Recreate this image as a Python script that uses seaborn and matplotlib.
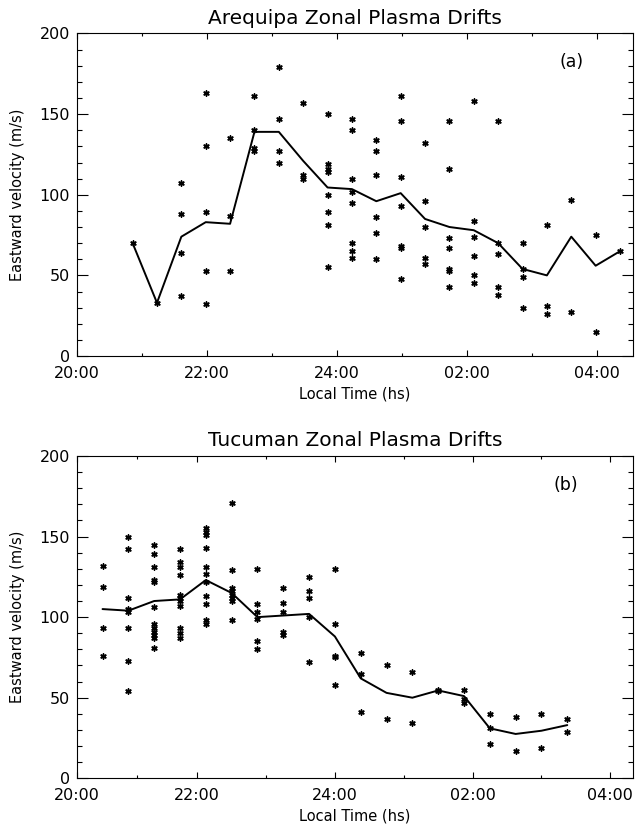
import numpy as np
import pandas as pd
import matplotlib
matplotlib.use("Agg")
import matplotlib.pyplot as plt
import seaborn as sns

# ---------------- data (decimal local hours, 24+ = after midnight) ----------------
top_times = [20.86, 21.235, 21.61, 21.985, 22.36, 22.735, 23.11, 23.485, 23.86, 24.235,
             24.61, 24.985, 25.36, 25.735, 26.11, 26.485, 26.86, 27.235, 27.61, 27.985, 28.36]
top_points = [
    [70],
    [33],
    [107, 88, 64, 37],
    [163, 130, 89, 53, 32],
    [135, 87, 53],
    [161, 140, 129, 127],
    [179, 147, 127, 120],
    [157, 112, 110],
    [150, 119, 116, 114, 100, 89, 81, 55],
    [147, 140, 110, 102, 95, 70, 65, 61],
    [134, 127, 112, 86, 76, 60],
    [161, 146, 111, 93, 68, 67, 48],
    [132, 96, 80, 61, 57],
    [146, 116, 73, 67, 54, 53, 43],
    [158, 84, 74, 62, 50, 45],
    [146, 70, 63, 43, 38],
    [70, 54, 49, 30],
    [81, 31, 26],
    [97, 27],
    [75, 15],
    [65],
]
top_line = [70, 33, 74, 83, 82, 139, 139, 121, 104.5, 103.5, 96, 101, 85, 80, 78, 70,
            54, 50, 74, 56, 65]

bot_times = [20.625, 21.0, 21.375, 21.75, 22.125, 22.5, 22.875, 23.25, 23.625, 24.0,
             24.375, 24.75, 25.125, 25.5, 25.875, 26.25, 26.625, 27.0, 27.375]
bot_points = [
    [132, 119, 93, 76],
    [150, 142, 112, 105, 103, 93, 73, 54],
    [145, 139, 131, 123, 122, 106, 96, 93, 91, 89, 87, 81],
    [142, 134, 131, 126, 114, 112, 110, 107, 93, 90, 87],
    [155, 153, 151, 143, 131, 127, 122, 113, 108, 98, 96],
    [171, 129, 118, 116, 114, 112, 110, 98],
    [130, 108, 103, 99, 85, 80],
    [118, 109, 103, 91, 89],
    [125, 116, 112, 100, 72],
    [130, 96, 76, 75, 58],
    [78, 65, 41],
    [70, 37],
    [66, 34],
    [55, 54],
    [55, 49, 47],
    [40, 31, 21],
    [38, 17],
    [40, 19],
    [37, 29],
]
bot_line = [105, 104, 110, 111, 123, 115, 100, 101, 102, 88, 62, 53, 50, 54.5, 51,
            31, 27.5, 29.5, 33]

titles = ["Arequipa Zonal Plasma Drifts", "Tucuman Zonal Plasma Drifts"]
panel_labels = ["(a)", "(b)"]
xtick_labels = ["20:00", "22:00", "24:00", "02:00", "04:00"]
yticks = [0, 50, 100, 150, 200]

# ---------------- style ----------------
sns.set_theme(style="ticks")
plt.rcParams["font.family"] = ["DejaVu Sans"]
plt.rcParams["axes.edgecolor"] = "black"
plt.rcParams["axes.linewidth"] = 0.8
plt.rcParams["text.color"] = "black"
plt.rcParams["axes.labelcolor"] = "black"
plt.rcParams["axes.titlecolor"] = "black"

fig = plt.figure(figsize=(6.42, 8.33), dpi=100)
ax_top = fig.add_axes([0.1195, 0.5726, 0.8665, 0.3872])
ax_bot = fig.add_axes([0.1195, 0.0657, 0.8665, 0.3869])


def build(times, points):
    xs, ys = [], []
    for t, pts in zip(times, points):
        for p in pts:
            xs.append(t)
            ys.append(p)
    return pd.DataFrame({"time": xs, "vel": ys})


configs = [
    (ax_top, top_times, top_points, top_line, (20.0, 28.56),
     [20, 22, 24, 26, 28], [21, 23, 25, 27], (0.89, 0.912)),
    (ax_bot, bot_times, bot_points, bot_line, (20.25, 28.33),
     [20.25, 22, 24, 26, 28], [21.125, 23, 25, 27], (0.88, 0.91)),
]

for i, (ax, times, points, line, xlim, xmaj, xmin, lblpos) in enumerate(configs):
    df_pts = build(times, points)
    df_line = pd.DataFrame({"time": times, "vel": line})
    sns.lineplot(data=df_line, x="time", y="vel", ax=ax, color="black",
                 linewidth=1.4, estimator=None, sort=False)
    sns.scatterplot(data=df_pts, x="time", y="vel", ax=ax, marker=(6, 2, 0),
                    s=14, color="black", linewidth=1.1, edgecolor="black")
    ax.set_xlim(*xlim)
    ax.set_ylim(0, 200)
    ax.set_xticks(xmaj)
    ax.set_xticklabels(xtick_labels)
    ax.set_xticks(xmin, minor=True)
    ax.set_yticks(yticks)
    ax.set_yticks(np.arange(0, 201, 10), minor=True)
    ax.tick_params(axis="both", which="both", direction="in", top=True, right=True,
                   colors="black", labelcolor="black", labelsize=11.5, width=0.8)
    ax.tick_params(axis="x", which="major", length=4.3, pad=7)
    ax.tick_params(axis="x", which="minor", length=2.2)
    ax.tick_params(axis="y", which="major", length=8, pad=5)
    ax.tick_params(axis="y", which="minor", length=3.6)
    for s in ax.spines.values():
        s.set_visible(True)
        s.set_color("black")
        s.set_linewidth(0.8)
    ax.set_xlabel("Local Time (hs)", fontsize=10.5, labelpad=4, color="black")
    ax.set_ylabel("Eastward velocity (m/s)", fontsize=10.5, labelpad=10, color="black")
    ax.set_title(titles[i], fontsize=14.5, pad=7, color="black")
    ax.text(lblpos[0], lblpos[1], panel_labels[i], transform=ax.transAxes,
            ha="center", va="center", fontsize=12.5, color="black")
    ax.grid(False)
    ax.set_facecolor("white")

fig.savefig("out.png", dpi=100, facecolor="white")
